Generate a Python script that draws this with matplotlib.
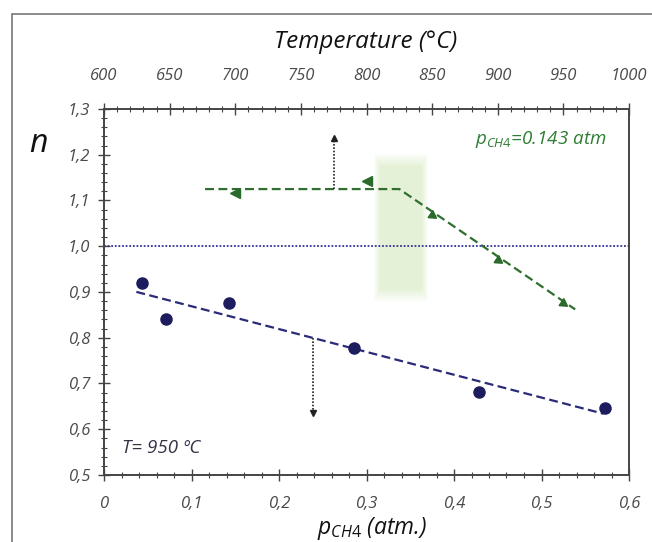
import numpy as np
import matplotlib
matplotlib.use("Agg")
import matplotlib.pyplot as plt
from matplotlib.ticker import MultipleLocator, FuncFormatter
from matplotlib.patches import Rectangle

plt.rcParams['font.family'] = ['Open Sans', 'DejaVu Sans']
plt.rcParams['mathtext.fontset'] = 'custom'
plt.rcParams['mathtext.rm'] = 'Open Sans'
plt.rcParams['mathtext.it'] = 'Open Sans:italic'

# reaction order vs methane partial pressure (T = 950 C)
p_ch4 = [0.043, 0.071, 0.143, 0.286, 0.429, 0.572]
n_p = [0.920, 0.841, 0.875, 0.778, 0.682, 0.646]

# reaction order vs temperature (p_CH4 = 0.143 atm)
temp = [700, 800, 850, 900, 950]
n_t = [1.117, 1.143, 1.068, 0.971, 0.875]
trend_t = [677, 825, 959]
trend_n = [1.125, 1.125, 0.862]

# guide arrows and shaded transition band
arrow_p = [0.239, 0.800, 0.636]     # x, start n, end n
arrow_t = [775.5, 1.125, 1.237]
band_p = [0.307, 0.370]
band_n = [0.876, 1.204]

txt = '#4a4a4a'
navy = '#1c1c5e'
green = '#2f6e2f'

fig = plt.figure(figsize=(6.52, 5.42), dpi=100)
ax = fig.add_axes([104/652, 1-475/542, 525/652, 366/542])

# soft green band
h, w = 150, 55
yy, xx = np.mgrid[0:h, 0:w]
edge = np.minimum(np.minimum(xx, w-1-xx) / 7.0, np.minimum(yy, h-1-yy) / 14.0)
alpha = np.clip(edge, 0, 1) * 0.65
img = np.zeros((h, w, 4))
img[..., 0], img[..., 1], img[..., 2] = 0.84, 0.92, 0.76
img[..., 3] = alpha
ax.imshow(img, extent=[band_p[0], band_p[1], band_n[0], band_n[1]],
          aspect='auto', interpolation='bilinear', zorder=1)
ax.set_xlim(0, 0.6)
ax.set_ylim(0.5, 1.3)

ax.axhline(1.0, color='#333399', ls=(0, (1, 1)), lw=1.3, zorder=2)

coef = np.polyfit(p_ch4, n_p, 1)
fit_x = np.array([0.037, 0.571])
ax.plot(fit_x, np.polyval(coef, fit_x), color='#2a2a78', ls=(0, (4, 2)), lw=1.6, zorder=3)
ax.plot(p_ch4, n_p, 'o', color=navy, ms=8, zorder=4)

ax.plot([arrow_p[0]] * 2, arrow_p[1:], color='#222222', ls=(0, (1, 1)), lw=1.2, zorder=3)
ax.plot(arrow_p[0], arrow_p[2], marker='v', color='#222222', ms=5, zorder=4)

ax.text(0.021, 0.559, 'T= 950 ºC', fontsize=13.5, style='italic', color='#333344',
        va='center', ha='left')
ax.text(0.424, 1.234, r'$p_{\mathit{CH4}}$=0.143 atm', fontsize=13.5, style='italic',
        color='#2e7d32', va='center', ha='left')

fmt_y = FuncFormatter(lambda v, _: f'{v:.1f}'.replace('.', ','))
fmt_x = FuncFormatter(lambda v, _: '0' if abs(v) < 1e-9 else f'{v:.1f}'.replace('.', ','))
ax.xaxis.set_major_locator(MultipleLocator(0.1))
ax.xaxis.set_minor_locator(MultipleLocator(0.02))
ax.yaxis.set_major_locator(MultipleLocator(0.1))
ax.yaxis.set_minor_locator(MultipleLocator(0.02))
ax.xaxis.set_major_formatter(fmt_x)
ax.yaxis.set_major_formatter(fmt_y)
ax.tick_params(axis='y', which='major', direction='inout', length=8, width=1, color='#444444',
               pad=6, labelsize=12, labelcolor=txt)
ax.tick_params(axis='y', which='minor', direction='inout', length=5, width=0.8, color='#444444')
ax.tick_params(axis='x', which='major', direction='inout', length=8, width=1, color='#444444',
               pad=11, labelsize=12, labelcolor=txt)
ax.tick_params(axis='x', which='minor', direction='inout', length=5, width=0.8, color='#444444')
for lab in ax.get_xticklabels() + ax.get_yticklabels():
    lab.set_style('italic')
for s in ax.spines.values():
    s.set_color('#444444')
    s.set_linewidth(1.2)

# temperature axis on top
ax2 = ax.twiny()
ax2.set_xlim(600, 1000)
ax2.xaxis.set_major_locator(MultipleLocator(50))
ax2.xaxis.set_minor_locator(MultipleLocator(10))
ax2.tick_params(axis='x', which='major', direction='inout', length=8, width=1, color='#444444',
                pad=14, labelsize=12, labelcolor=txt)
ax2.tick_params(axis='x', which='minor', direction='inout', length=5, width=0.8, color='#444444')
for lab in ax2.get_xticklabels():
    lab.set_style('italic')
for s in ax2.spines.values():
    s.set_color('#444444')
    s.set_linewidth(1.2)

ax2.plot(trend_t, trend_n, color=green, ls=(0, (4, 2)), lw=1.6, zorder=3)
ax2.plot(temp[:2], n_t[:2], ls='none', marker='<', color='#2a6a2a', ms=7, zorder=4)
ax2.plot(temp[2:], n_t[2:], ls='none', marker=(3, 0, -124), color='#2a6a2a', ms=7, zorder=4)
ax2.plot([arrow_t[0]] * 2, arrow_t[1:], color='#222222', ls=(0, (1, 1)), lw=1.2, zorder=3)
ax2.plot(arrow_t[0], arrow_t[2], marker='^', color='#222222', ms=5, zorder=4)

fig.text(366/652, 1-42/542, 'Temperature (°C)', fontsize=17.5, style='italic', color='#111111',
         ha='center', va='center')
fig.text(372/652, 1-528/542, r'$p_{\mathit{CH4}}$ (atm.)', fontsize=16.5, style='italic',
         color='#111111', ha='center', va='center')
fig.text(38/652, 1-143/542, 'n', fontsize=23, style='italic', color='#111111',
         ha='center', va='center')

# outer frame
fig.patches.append(Rectangle((12/652, -0.1), 1.2, 0.1 + 1-14/542, transform=fig.transFigure,
                             fill=False, ec='#777777', lw=1.2))

fig.savefig('out.png', dpi=100)
